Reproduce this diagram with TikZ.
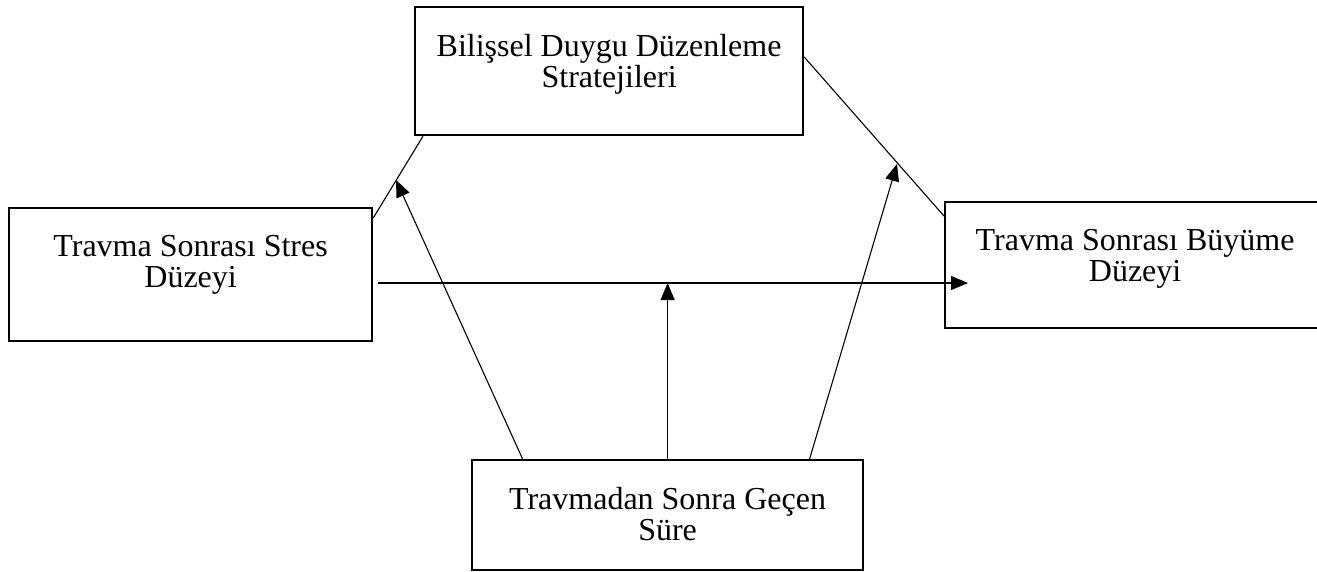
\documentclass[tikz,border=0pt]{standalone}
\usepackage{fontspec}
\setmainfont{Liberation Serif}
\usetikzlibrary{arrows.meta}
\tikzset{model box/.style={draw, line width=2.2pt, inner sep=0pt, anchor=north west},
  link/.style={line width=1.1pt},
  effect/.style={line width=1.1pt, -{Triangle[length=17pt,width=14pt]}},}
\newcommand{\boxtext}[3]{\parbox[c][#1][t]{#2}{\centering\fontsize{32}{31}\selectfont\vspace*{27pt}#3}}

\begin{document}
\begin{tikzpicture}[x=1pt,y=-1pt]
   \useasboundingbox (0,0) rectangle (1317,571);
   \node[model box] (bilis) at (414,6) {\boxtext{128pt}{388pt}{Bilişsel Duygu Düzenleme\\Stratejileri}};
   \node[model box] (stres) at (8,207) {\boxtext{133pt}{363pt}{Travma Sonrası Stres\\Düzeyi}};
   \node[model box] (buyume) at (944,201) {\boxtext{126pt}{380pt}{Travma Sonrası Büyüme\\Düzeyi}};
   \node[model box] (sure) at (471,459) {\boxtext{110pt}{391pt}{Travmadan Sonra Geçen\\Süre}};

   \coordinate (stresout) at (378,283);
   \coordinate (buyumein) at (968,283);
   \coordinate (mainpath) at (sure.north |- stresout);
   \coordinate (leftpath) at (396,180);
   \coordinate (rightpath) at (897,164);

   \draw[link] ([yshift=-11pt]stres.north east) -- ([xshift=9pt]bilis.south west);
   \draw[link] ([yshift=-51pt]bilis.north east) -- ([yshift=-15pt]buyume.north west);

   \draw[effect] (stresout) -- (buyumein);
   \draw[effect] ([xshift=-145pt]sure.north) -- (leftpath);
   \draw[effect] (sure.north) -- (mainpath);
   \draw[effect] ([xshift=142pt]sure.north) -- (rightpath);
  \end{tikzpicture}
\end{document}
